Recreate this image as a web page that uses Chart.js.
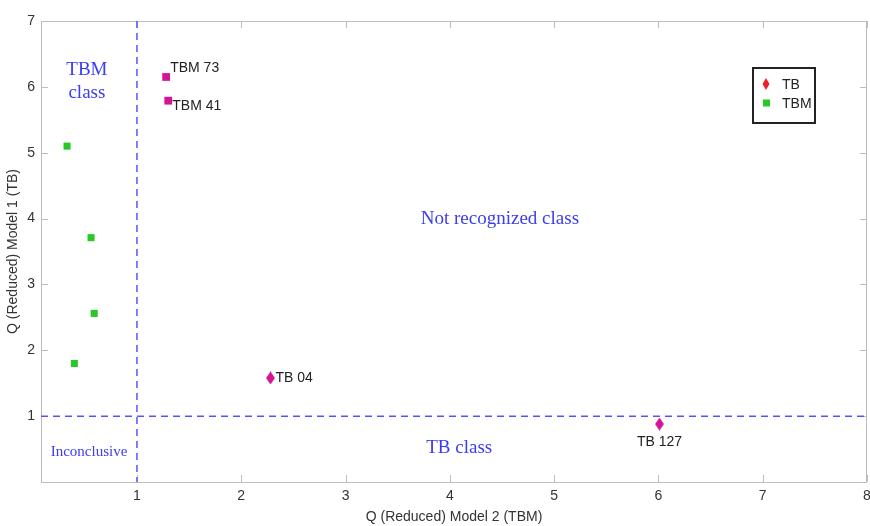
<!DOCTYPE html>
<html>
<head>
<meta charset="utf-8">
<script src="https://cdn.jsdelivr.net/npm/chart.js@4/dist/chart.umd.min.js"></script>
<style>
  html, body { margin: 0; padding: 0; background: #fff; }
  #wrap { width: 870px; height: 526px; }
</style>
</head>
<body>
<div id="wrap"><canvas id="scatter" width="870" height="526"></canvas></div>
<script>
// data
const tbPoints = [
  { x: 2.28, y: 1.58 },
  { x: 6.01, y: 0.88 },
];
const tbNames = ["TB 04", "TB 127"];

const tbmPoints = [
  { x: 0.33, y: 5.10 },
  { x: 0.56, y: 3.71 },
  { x: 0.59, y: 2.56 },
  { x: 0.40, y: 1.80 },
];

const tbmFlagged = [
  { x: 1.28, y: 6.15 },
  { x: 1.30, y: 5.79 },
];
const tbmFlaggedNames = ["TBM 73", "TBM 41"];

const xTicks = [1, 2, 3, 4, 5, 6, 7, 8];
const yTicks = [1, 2, 3, 4, 5, 6, 7];
const threshold = 1;

const regionTexts = [
  { text: "TBM", x: 0.52, y: 6.26, size: 19 },
  { text: "class", x: 0.52, y: 5.91, size: 19 },
  { text: "Not recognized class", x: 4.48, y: 4.0, size: 19 },
  { text: "Inconclusive", x: 0.54, y: 0.46, size: 15 },
  { text: "TB class", x: 4.09, y: 0.51, size: 19 },
];

const legendItems = [
  { label: "TB", color: "rgb(240, 30, 40)", shape: "diamond" },
  { label: "TBM", color: "rgb(40, 200, 40)", shape: "square" },
];

const magenta = "rgb(210, 20, 150)";
const green = "rgb(40, 200, 40)";
const dashBlue = "rgb(85, 85, 255)";
const textBlue = "rgb(60, 60, 240)";
const frameGray = "#bdbdbd";

function diamondImage(color) {
  const c = document.createElement("canvas");
  c.width = 9;
  c.height = 13;
  const g = c.getContext("2d");
  g.fillStyle = color;
  g.beginPath();
  g.moveTo(4.5, 0);
  g.lineTo(9, 6.5);
  g.lineTo(4.5, 13);
  g.lineTo(0, 6.5);
  g.closePath();
  g.fill();
  return c;
}

// frame, inward ticks, dashed thresholds, region texts, point names and legend
const decorations = {
  id: "decorations",
  beforeDatasetsDraw(chart) {
    const { ctx, chartArea: a, scales } = chart;
    const xs = scales.x;
    const ys = scales.y;
    ctx.save();
    ctx.strokeStyle = frameGray;
    ctx.lineWidth = 1;
    ctx.strokeRect(a.left + 0.5, a.top + 0.5, a.right - a.left - 1, a.bottom - a.top);
    ctx.beginPath();
    for (const v of xTicks) {
      const px = Math.round(xs.getPixelForValue(v)) + 0.5;
      ctx.moveTo(px, a.bottom);
      ctx.lineTo(px, a.bottom - 7);
      ctx.moveTo(px, a.top);
      ctx.lineTo(px, a.top + 7);
    }
    for (const v of yTicks) {
      const py = Math.round(ys.getPixelForValue(v)) + 0.5;
      ctx.moveTo(a.left, py);
      ctx.lineTo(a.left + 7, py);
      ctx.moveTo(a.right, py);
      ctx.lineTo(a.right - 7, py);
    }
    ctx.stroke();

    // dashed threshold lines
    ctx.strokeStyle = dashBlue;
    ctx.lineWidth = 1.5;
    ctx.setLineDash([7, 5]);
    const vx = xs.getPixelForValue(threshold);
    const hy = ys.getPixelForValue(threshold);
    ctx.beginPath();
    ctx.moveTo(vx, a.top);
    ctx.lineTo(vx, a.bottom);
    ctx.moveTo(a.left, hy);
    ctx.lineTo(a.right, hy);
    ctx.stroke();
    ctx.setLineDash([]);

    // region names
    ctx.fillStyle = textBlue;
    ctx.textAlign = "center";
    ctx.textBaseline = "middle";
    regionTexts.forEach((r) => {
      ctx.font = r.size + "px 'Liberation Serif', serif";
      ctx.fillText(r.text, xs.getPixelForValue(r.x), ys.getPixelForValue(r.y));
    });
    ctx.restore();
  },
  afterDatasetsDraw(chart) {
    const { ctx, scales } = chart;
    const xs = scales.x;
    const ys = scales.y;
    ctx.save();
    ctx.fillStyle = "#222";
    ctx.font = "14px 'Liberation Sans', Arial, sans-serif";
    ctx.textBaseline = "middle";

    // point names
    const f0 = tbmFlagged[0];
    ctx.textAlign = "left";
    ctx.fillText(tbmFlaggedNames[0], xs.getPixelForValue(f0.x) + 4, ys.getPixelForValue(f0.y) - 9);
    const f1 = tbmFlagged[1];
    ctx.fillText(tbmFlaggedNames[1], xs.getPixelForValue(f1.x) + 4, ys.getPixelForValue(f1.y) + 5);
    const t0 = tbPoints[0];
    ctx.fillText(tbNames[0], xs.getPixelForValue(t0.x) + 5, ys.getPixelForValue(t0.y));
    const t1 = tbPoints[1];
    ctx.textAlign = "center";
    ctx.fillText(tbNames[1], xs.getPixelForValue(t1.x), ys.getPixelForValue(t1.y) + 18);

    // legend box
    const lx = 753, ly = 68, lw = 62, lh = 55;
    ctx.fillStyle = "#fff";
    ctx.fillRect(lx, ly, lw, lh);
    ctx.strokeStyle = "#222";
    ctx.lineWidth = 2;
    ctx.strokeRect(lx, ly, lw, lh);
    ctx.textAlign = "left";
    legendItems.forEach((item, i) => {
      const cy = ly + 16 + i * 19;
      ctx.fillStyle = item.color;
      if (item.shape === "diamond") {
        ctx.beginPath();
        ctx.moveTo(lx + 13, cy - 6);
        ctx.lineTo(lx + 16.5, cy);
        ctx.lineTo(lx + 13, cy + 6);
        ctx.lineTo(lx + 9.5, cy);
        ctx.closePath();
        ctx.fill();
      } else {
        ctx.fillRect(lx + 10, cy - 3.5, 7, 7);
      }
      ctx.fillStyle = "#222";
      ctx.fillText(item.label, lx + 29, cy + 1);
    });
    ctx.restore();
  },
};

const tickFont = { family: "'Liberation Sans', Arial, sans-serif", size: 14 };

new Chart(document.getElementById("scatter"), {
  type: "scatter",
  data: {
    datasets: [
      {
        label: "TB",
        data: tbPoints,
        pointStyle: diamondImage(magenta),
        pointRadius: 6,
        pointHoverRadius: 6,
      },
      {
        label: "TBM",
        data: tbmPoints,
        pointStyle: "rect",
        pointRadius: 5,
        pointHoverRadius: 5,
        backgroundColor: green,
        borderWidth: 0,
      },
      {
        label: "TBM flagged",
        data: tbmFlagged,
        pointStyle: "rect",
        pointRadius: 5.5,
        pointHoverRadius: 5.5,
        backgroundColor: magenta,
        borderWidth: 0,
      },
    ],
  },
  plugins: [decorations],
  options: {
    responsive: false,
    animation: false,
    events: [],
    layout: { autoPadding: false, padding: { top: 21, right: 3, left: 0, bottom: 0 } },
    plugins: {
      legend: { display: false },
      tooltip: { enabled: false },
    },
    scales: {
      x: {
        type: "linear",
        min: 0.08,
        max: 8,
        grid: { display: false, drawTicks: false },
        border: { display: false },
        afterBuildTicks: (scale) => {
          scale.ticks = xTicks.map((v) => ({ value: v }));
        },
        afterFit: (scale) => {
          scale.height = 44;
          scale.paddingLeft = 0;
          scale.paddingRight = 0;
        },
        ticks: { color: "#333", font: tickFont, padding: 6, maxRotation: 0 },
        title: {
          display: true,
          text: "Q (Reduced) Model 2 (TBM)",
          color: "#333",
          font: tickFont,
          padding: { top: 3, bottom: 0 },
        },
      },
      y: {
        type: "linear",
        min: 0,
        max: 7,
        grid: { display: false, drawTicks: false },
        border: { display: false },
        afterBuildTicks: (scale) => {
          scale.ticks = yTicks.map((v) => ({ value: v }));
        },
        afterFit: (scale) => {
          scale.width = 41;
          scale.paddingTop = 0;
          scale.paddingBottom = 0;
        },
        ticks: { color: "#333", font: tickFont, padding: 6 },
        title: {
          display: true,
          text: "Q (Reduced) Model 1 (TB)",
          color: "#333",
          font: tickFont,
          padding: { top: 5, bottom: 0 },
        },
      },
    },
  },
});
</script>
</body>
</html>
